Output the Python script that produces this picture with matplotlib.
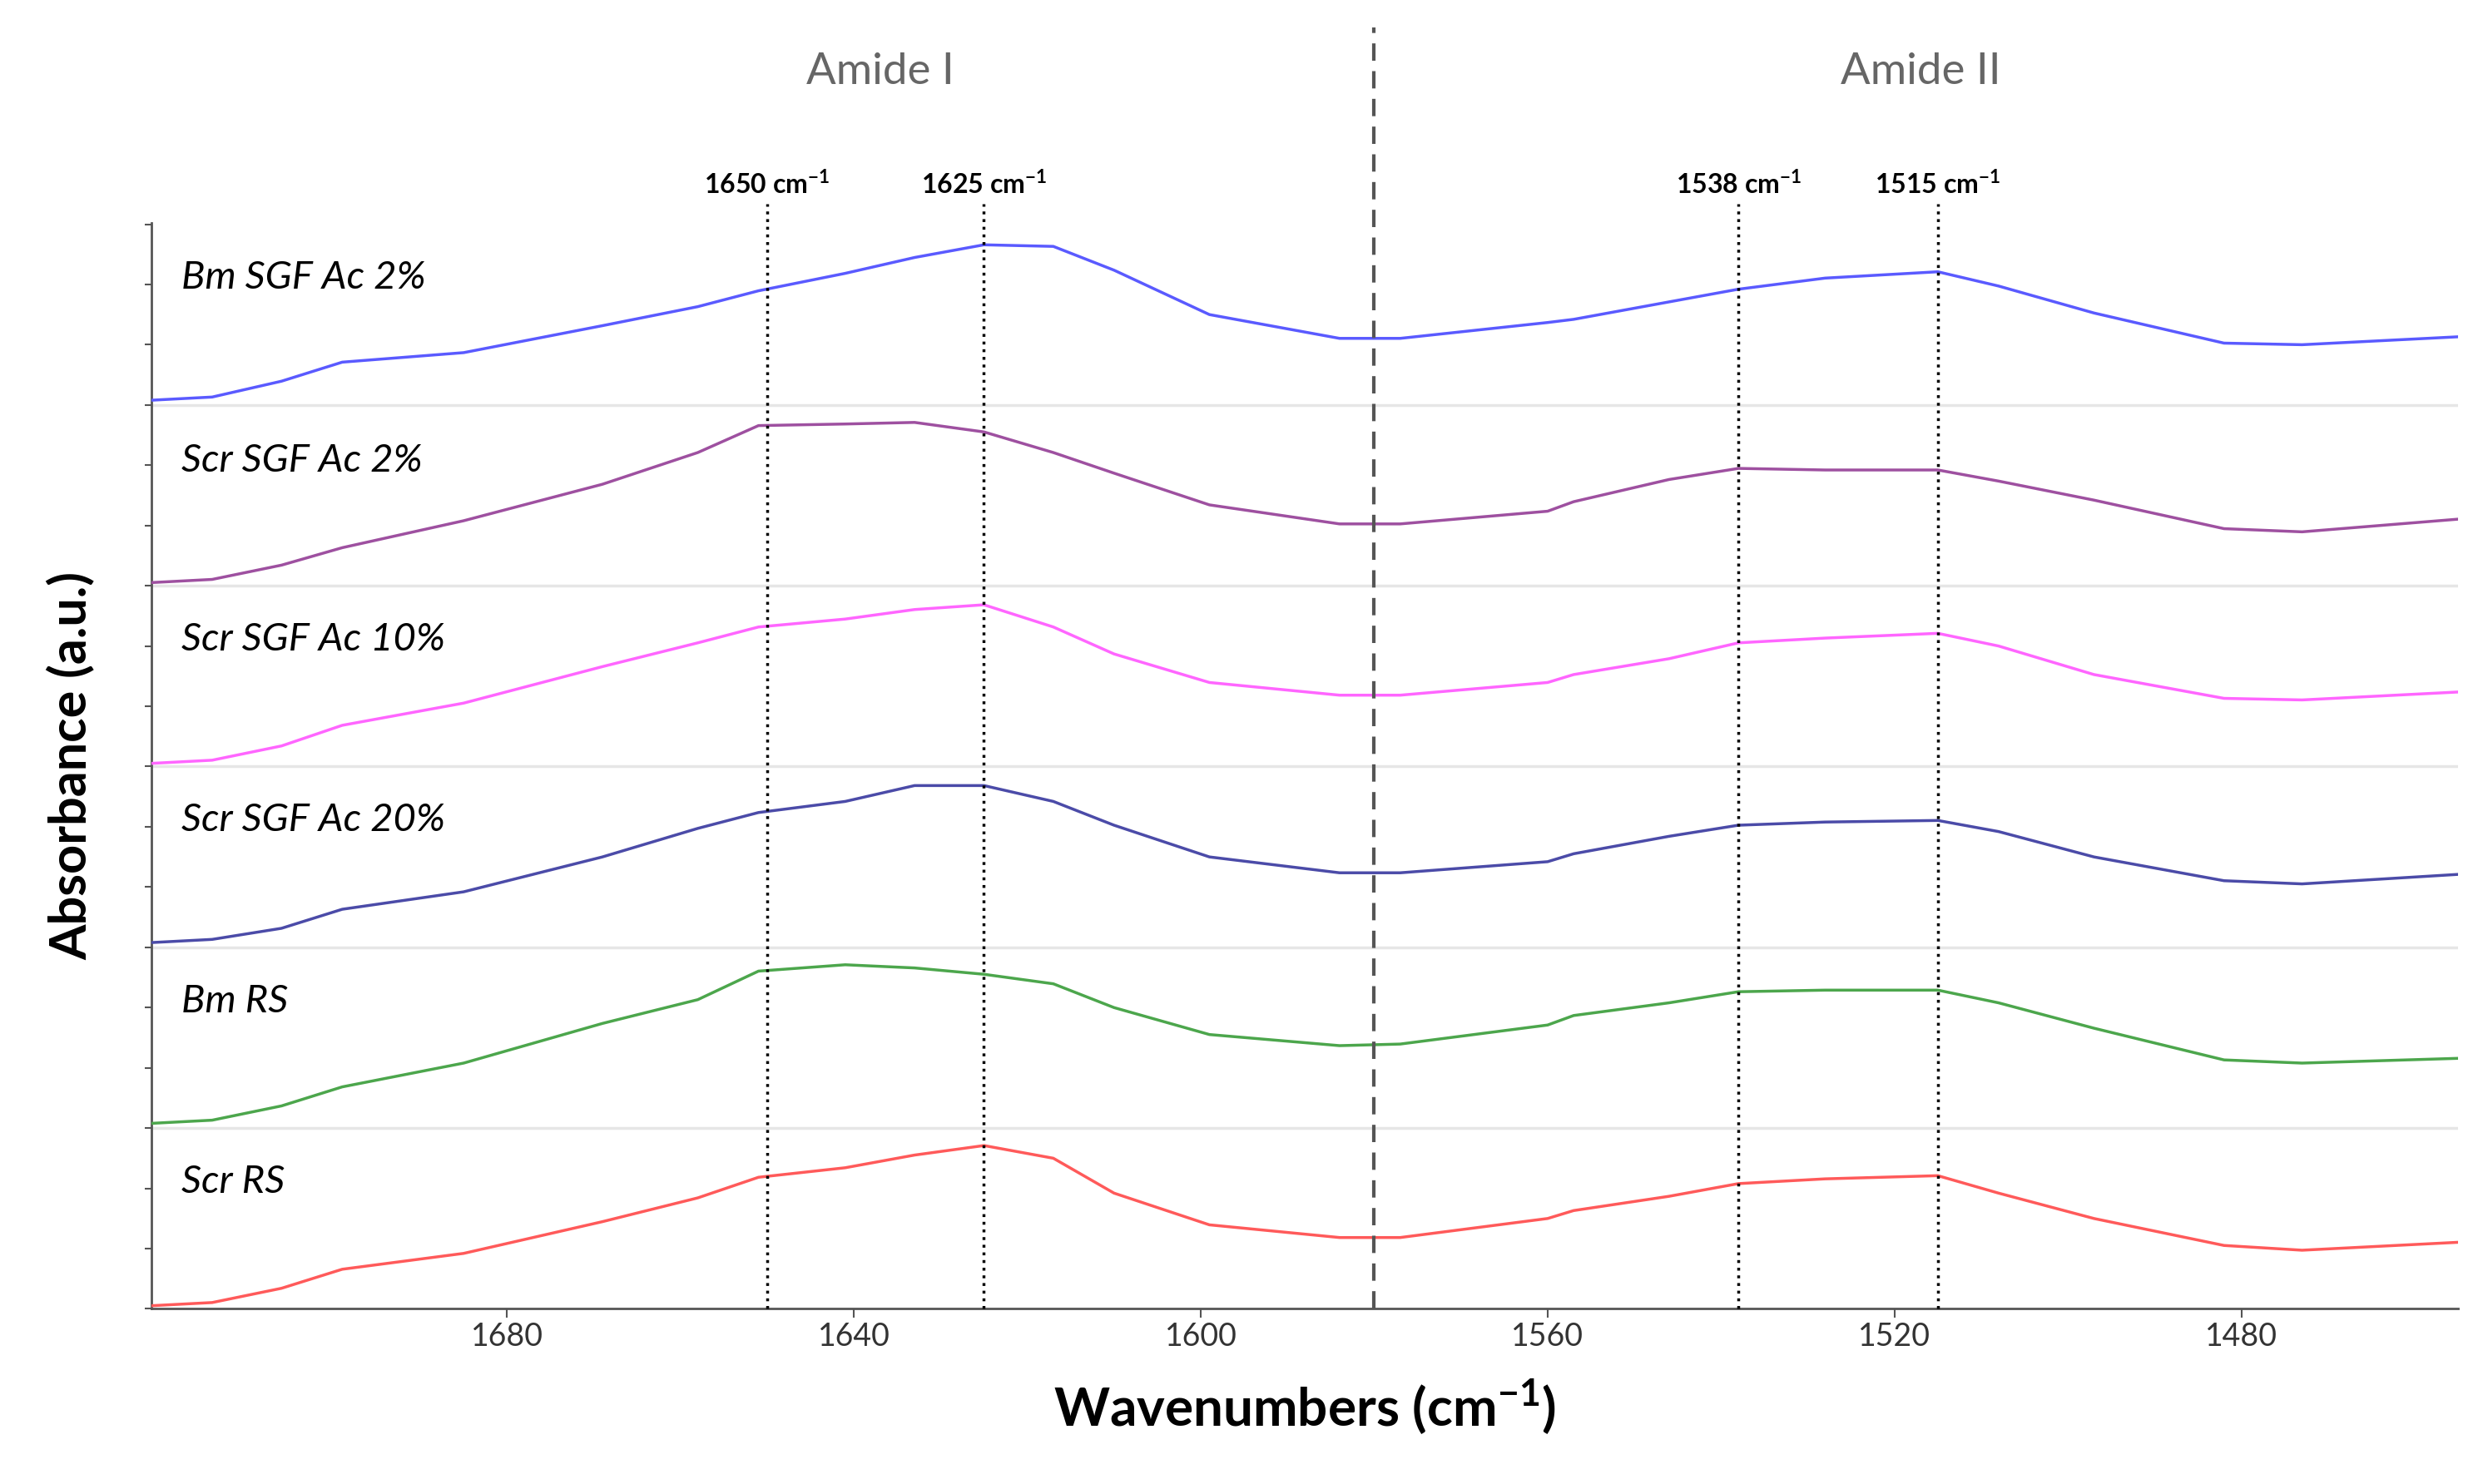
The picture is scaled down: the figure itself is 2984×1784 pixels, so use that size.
import matplotlib
matplotlib.use("Agg")
import matplotlib.pyplot as plt
import matplotlib.transforms as mtransforms

plt.rcParams["font.family"] = ["Lato", "DejaVu Sans"]
plt.rcParams["mathtext.fontset"] = "custom"
plt.rcParams["mathtext.rm"] = "Lato"
plt.rcParams["mathtext.bf"] = "Lato:bold"

wavenumbers = [1721,1714,1706,1699,1685,1669,1658,1651,1641,1633,1625,1617,1610,1599,1584,1577,1560,1557,1546,1538,1528,1515,1508,1497,1482,1473,1455]
bm_sgf_2 = [5.73,5.75,5.85,5.97,6.03,6.20,6.32,6.42,6.53,6.63,6.71,6.70,6.55,6.27,6.12,6.12,6.22,6.24,6.35,6.43,6.50,6.54,6.45,6.28,6.09,6.08,6.13]
scr_sgf_2 = [4.58,4.60,4.69,4.80,4.97,5.20,5.40,5.57,5.58,5.59,5.53,5.40,5.27,5.07,4.95,4.95,5.03,5.09,5.23,5.30,5.29,5.29,5.22,5.10,4.92,4.90,4.98]
scr_sgf_10 = [3.44,3.46,3.55,3.68,3.82,4.05,4.20,4.30,4.35,4.41,4.44,4.30,4.13,3.95,3.87,3.87,3.95,4.00,4.10,4.20,4.23,4.26,4.18,4.00,3.85,3.84,3.89]
scr_sgf_20 = [2.31,2.33,2.40,2.52,2.63,2.85,3.03,3.13,3.20,3.30,3.30,3.20,3.05,2.85,2.75,2.75,2.82,2.87,2.98,3.05,3.07,3.08,3.01,2.85,2.70,2.68,2.74]
bm_rs = [1.17,1.19,1.28,1.40,1.55,1.80,1.95,2.13,2.17,2.15,2.11,2.05,1.90,1.73,1.66,1.67,1.79,1.85,1.93,2.00,2.01,2.01,1.93,1.77,1.57,1.55,1.58]
scr_rs = [0.02,0.04,0.13,0.25,0.35,0.55,0.70,0.83,0.89,0.97,1.03,0.95,0.73,0.53,0.45,0.45,0.57,0.62,0.71,0.79,0.82,0.84,0.73,0.57,0.40,0.37,0.42]

series_names = ["Bm SGF Ac 2%", "Scr SGF Ac 2%", "Scr SGF Ac 10%", "Scr SGF Ac 20%", "Bm RS", "Scr RS"]
series = [bm_sgf_2, scr_sgf_2, scr_sgf_10, scr_sgf_20, bm_rs, scr_rs]
colors = ["#5a5aff", "#9e50a0", "#ff66ff", "#4b4ba8", "#4ca64c", "#ff5a5a"]
label_y = [6.50, 5.35, 4.22, 3.08, 1.94, 0.80]
separators = [5.70, 4.56, 3.42, 2.28, 1.14]
peaks = [1650, 1625, 1538, 1515]
peak_labels = ["1650 cm$^{\\mathbf{-1}}$", "1625 cm$^{\\mathbf{-1}}$", "1538 cm$^{\\mathbf{-1}}$", "1515 cm$^{\\mathbf{-1}}$"]
divider = 1580
regions = [("Amide I", 1637), ("Amide II", 1517)]
xticks = [1680, 1640, 1600, 1560, 1520, 1480]

fig = plt.figure(figsize=(29.84, 17.84), dpi=100)
ax = fig.add_axes([0.061, 0.118, 0.929, 0.732])
ax.set_xlim(1721, 1455)
ax.set_ylim(0, 6.85)

for s in separators:
    ax.axhline(s, color="#e6e6e6", lw=2.5, zorder=1)
for name, ys, c, ly in zip(series_names, series, colors, label_y):
    ax.plot(wavenumbers, ys, color=c, lw=2.5, zorder=3)
    ax.text(1717.5, ly, name, fontsize=34, style="italic", color="black", va="center", ha="left")

trans = mtransforms.blended_transform_factory(ax.transData, ax.transAxes)
for p, lab in zip(peaks, peak_labels):
    ax.plot([p, p], [0, 1.017], transform=trans, color="black", ls=":", lw=2.5, clip_on=False, zorder=4)
    ax.text(p, 1.036, lab, transform=trans, fontsize=23, fontweight="bold", ha="center", va="center")
ax.plot([divider, divider], [0, 1.18], transform=trans, color="#555555", ls=(0, (5, 3)), lw=3, clip_on=False, zorder=4)
for t, x in regions:
    ax.text(x, 1.139, t, transform=trans, fontsize=38, color="#666666", ha="center", va="center")

ax.spines["top"].set_visible(False)
ax.spines["right"].set_visible(False)
ax.spines["left"].set_color("#555555")
ax.spines["bottom"].set_color("#555555")
ax.spines["left"].set_linewidth(2)
ax.spines["bottom"].set_linewidth(2)
ax.set_xticks(xticks)
ax.set_xticklabels([str(x) for x in xticks], fontsize=27, color="#333333")
ax.set_yticks([i * 0.38 for i in range(19)])
ax.set_yticklabels([])
ax.tick_params(axis="y", length=6, width=1.5, color="#555555")
ax.tick_params(axis="x", length=8, width=1.5, color="#555555")
ax.set_xlabel("Wavenumbers (cm$^{\\mathbf{-1}}$)", fontsize=46, fontweight="bold", labelpad=22)
ax.set_ylabel("Absorbance (a.u.)", fontsize=44, fontweight="bold", labelpad=40)

fig.savefig("out.png", dpi=100)
